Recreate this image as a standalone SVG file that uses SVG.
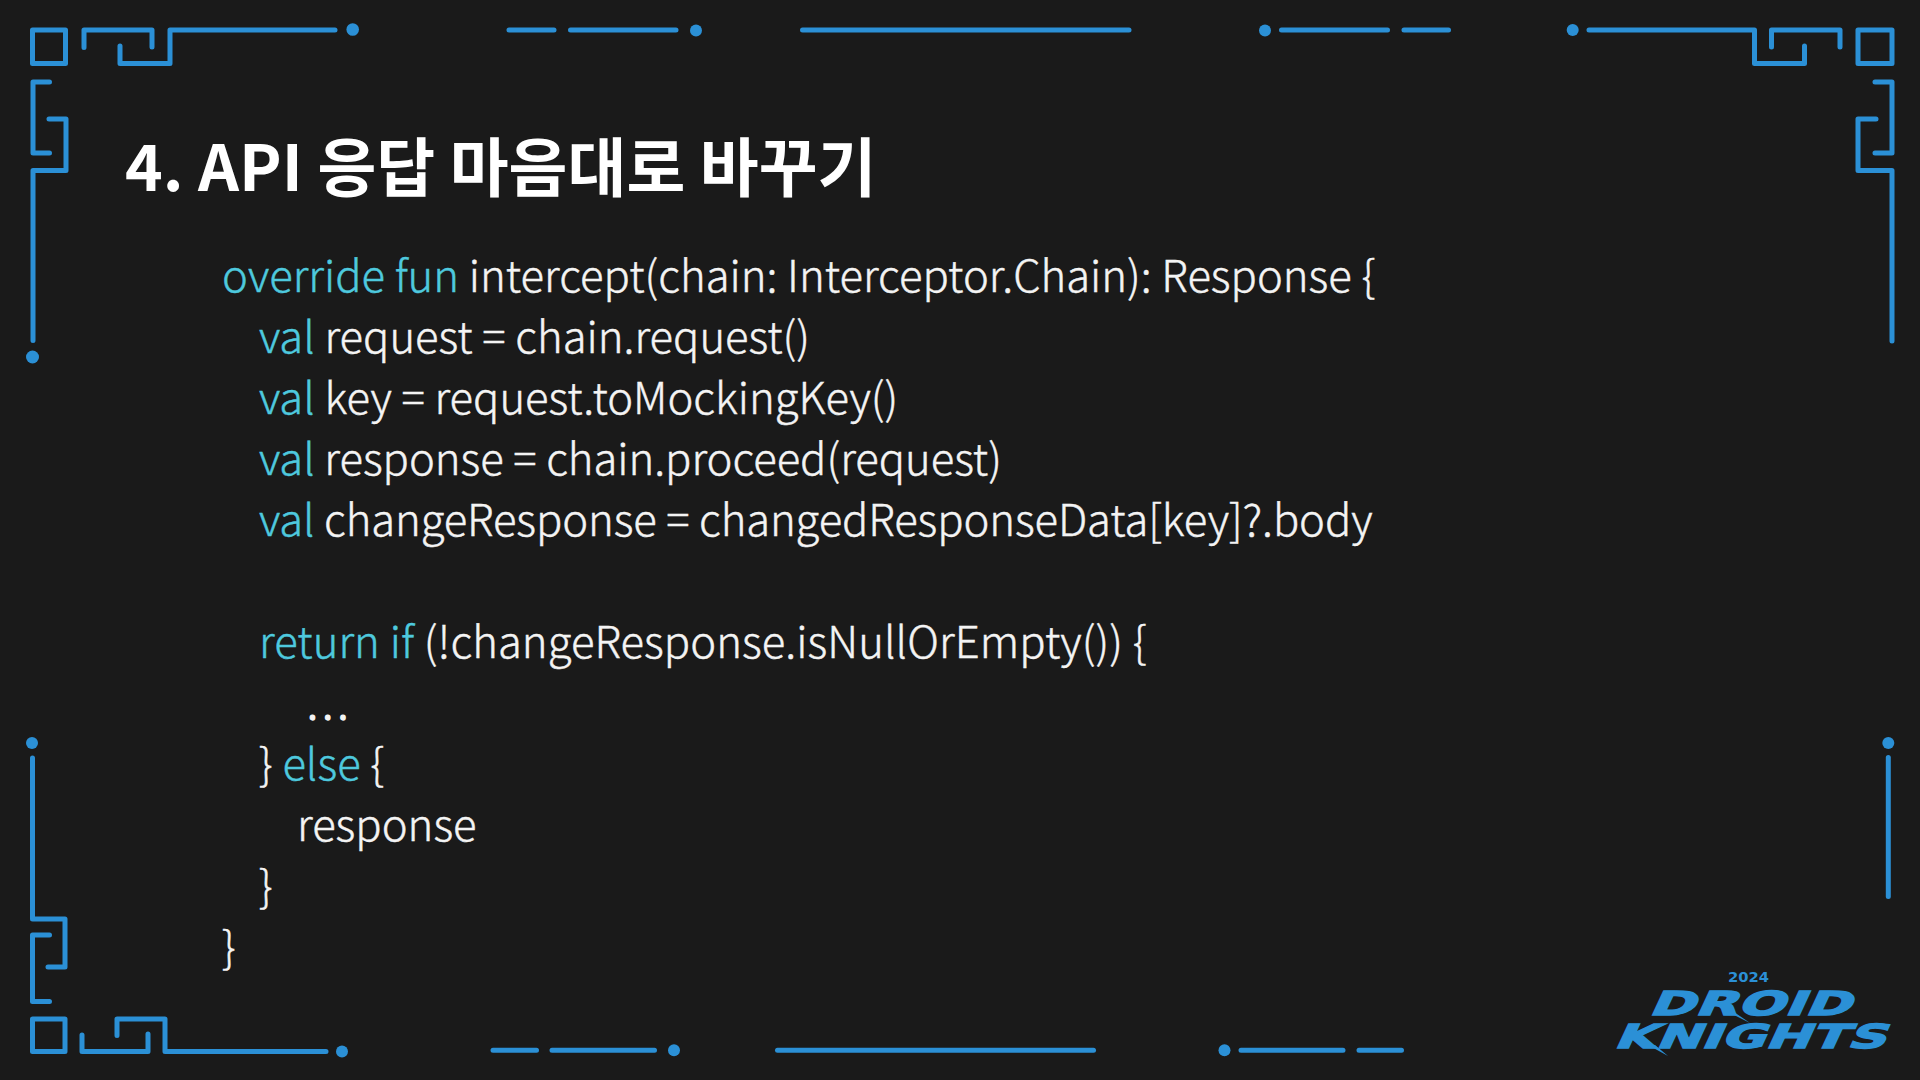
<svg xmlns="http://www.w3.org/2000/svg" width="1920" height="1080" viewBox="0 0 1920 1080">
<style>
.f{fill:none;stroke:#2b90d6;stroke-width:5;stroke-linecap:round;stroke-linejoin:round}
.d{fill:#2b90d6}
.t{font-family:"Noto Sans CJK KR","Noto Sans",sans-serif;fill:#fff}
.title{font-size:64px;font-weight:700}
.c{font-size:43.600px;font-weight:300;fill:#f4f4f4;stroke:#f4f4f4;stroke-width:.45}
.k{fill:#4ec9de;stroke:#4ec9de}
.l{font-family:"DejaVu Sans",sans-serif;font-weight:700;fill:#2b90d6}
.w{stroke:#2b90d6;stroke-width:1.4}
</style>
<rect width="1920" height="1080" fill="#1a1a1a"/>
<g id="frame">
<rect class="f" x="32.500" y="30" width="33" height="33.500"/>
<path class="f" d="M84 47.500V30H152V47"/>
<path class="f" d="M120 46V63.500H170V30H335"/>
<circle class="d" cx="352.700" cy="29.500" r="6.300"/>
<path class="f" d="M49.500 82H33V153H49.500"/>
<path class="f" d="M49 119H66V170.500H33V340.500"/>
<circle class="d" cx="32.500" cy="357" r="6.500"/>
<path class="f" d="M509 30H554M570.500 30H676"/><circle class="d" cx="696" cy="30.500" r="6"/>
<path class="f" d="M802.500 30H1129"/>
<circle class="d" cx="1265" cy="30.500" r="6"/><path class="f" d="M1281.500 30H1387.500M1404 30H1448.500"/>
<circle class="d" cx="1572.700" cy="30" r="6"/>
<path class="f" d="M1589 30H1754.500V63.500H1804.500V46"/>
<path class="f" d="M1771.500 47V30H1840V47"/>
<rect class="f" x="1858" y="30" width="34" height="33.500"/>
<path class="f" d="M1875 82H1892V153H1875"/>
<path class="f" d="M1876 119H1858V170.500H1892V341"/>
<circle class="d" cx="32" cy="743" r="6"/>
<path class="f" d="M32.500 758V919H65V967H48"/>
<path class="f" d="M49.500 935H32.500V1001.500H49.500"/>
<rect class="f" x="32.500" y="1019" width="32.500" height="32.500"/>
<path class="f" d="M82 1035V1051.500H148V1034"/>
<path class="f" d="M117 1035.500V1019H165V1051.500H326"/>
<circle class="d" cx="342" cy="1051.500" r="6"/>
<path class="f" d="M493 1050.300H536.500M552 1050.300H654.500"/><circle class="d" cx="674" cy="1050.300" r="6"/>
<path class="f" d="M777.500 1050.300H1093.500"/>
<circle class="d" cx="1224.500" cy="1050.300" r="6"/><path class="f" d="M1241 1050.300H1343M1359 1050.300H1401.500"/>
<circle class="d" cx="1888.300" cy="743" r="6"/><path class="f" d="M1888.300 757.500V896.500"/>
</g>
<g id="title"><text class="t title" x="125" y="191">4. API 응답 마음대로 바꾸기</text></g>
<g id="code">
<text class="t c" x="222" y="292"><tspan class="k">override fun</tspan> intercept(chain: Interceptor.Chain): Response {</text>
<text class="t c" x="259" y="353"><tspan class="k">val</tspan> request = chain.request()</text>
<text class="t c" x="259" y="414"><tspan class="k">val</tspan> key = request.toMockingKey()</text>
<text class="t c" x="259" y="475" letter-spacing="-.03"><tspan class="k">val</tspan> response = chain.proceed(request)</text>
<text class="t c" x="259" y="536" letter-spacing="-.1"><tspan class="k">val</tspan> changeResponse = changedResponseData[key]?.body</text>
<text class="t c" x="259" y="658" letter-spacing=".06"><tspan class="k">return if</tspan> (!changeResponse.isNullOrEmpty()) {</text>
<text class="t c" x="307" y="719" letter-spacing="4.300" stroke-width="1.300" style="stroke-width:1.300">...</text>
<text class="t c" x="259" y="780">} <tspan class="k">else</tspan> {</text>
<text class="t c" x="297" y="841">response</text>
<text class="t c" x="259" y="902">}</text>
<text class="t c" x="222" y="963">}</text>
</g>
<g id="logo">
<text class="l" x="1728" y="982" font-size="13.500" textLength="41" lengthAdjust="spacingAndGlyphs">2024</text>
<text class="l w" transform="translate(1648 1015) skewX(-25)" font-size="33" textLength="202" lengthAdjust="spacingAndGlyphs">DROID</text>
<text class="l w" transform="translate(1613 1048) skewX(-25)" font-size="33" textLength="272" lengthAdjust="spacingAndGlyphs">KNIGHTS</text>
<path class="d" d="M1728 1012L1734 1012L1750 1023ZM1648 1045L1655 1045L1668 1056Z"/>
</g>
</svg>
